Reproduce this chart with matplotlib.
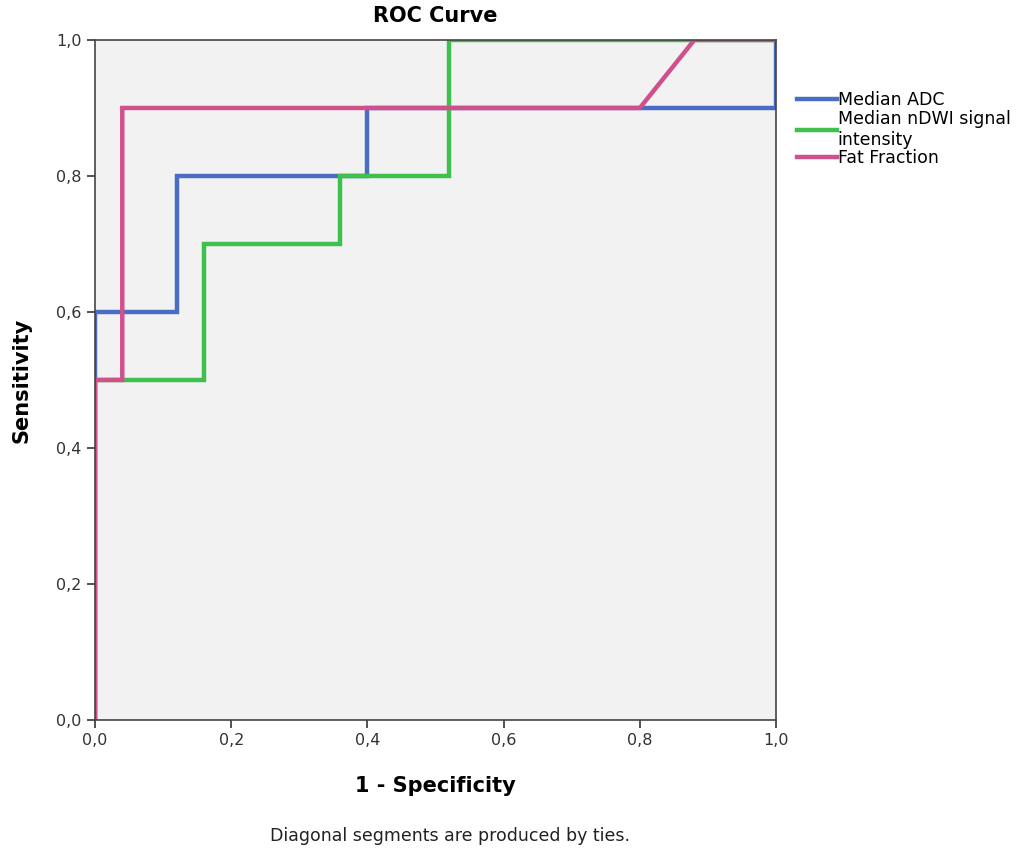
import matplotlib
matplotlib.use('Agg')
import matplotlib.pyplot as plt
from matplotlib.ticker import FuncFormatter

# ROC curve points (1 - specificity, sensitivity)
adc_x = [0.0, 0.0, 0.12, 0.12, 0.40, 0.40, 1.0, 1.0]
adc_y = [0.0, 0.6, 0.6, 0.8, 0.8, 0.9, 0.9, 1.0]

ndwi_x = [0.0, 0.0, 0.16, 0.16, 0.36, 0.36, 0.52, 0.52, 1.0]
ndwi_y = [0.0, 0.5, 0.5, 0.7, 0.7, 0.8, 0.8, 1.0, 1.0]

ff_x = [0.0, 0.0, 0.04, 0.04, 0.80, 0.88, 1.0]
ff_y = [0.0, 0.5, 0.5, 0.9, 0.9, 1.0, 1.0]

labels = ['Median ADC', 'Median nDWI signal\nintensity', 'Fat Fraction']
colors = ['#4a6cc2', '#3ec04c', '#d0508c']
ticks = [0.0, 0.2, 0.4, 0.6, 0.8, 1.0]

fig = plt.figure(figsize=(10.23, 8.56), dpi=100)
ax = fig.add_axes([0.0929, 0.1589, 0.6657, 0.7944])
ax.set_facecolor('#f2f2f2')

ax.plot(adc_x, adc_y, color=colors[0], lw=3.2, label=labels[0], solid_joinstyle='miter')
ax.plot(ndwi_x, ndwi_y, color=colors[1], lw=3.2, label=labels[1], solid_joinstyle='miter')
ax.plot(ff_x, ff_y, color=colors[2], lw=3.2, label=labels[2], solid_joinstyle='miter')

ax.set_xlim(0, 1)
ax.set_ylim(0, 1)
ax.set_xticks(ticks)
ax.set_yticks(ticks)
fmt = FuncFormatter(lambda v, p: ('%.1f' % v).replace('.', ','))
ax.xaxis.set_major_formatter(fmt)
ax.yaxis.set_major_formatter(fmt)
ax.tick_params(direction='out', length=6, width=1.2, labelsize=11.5, colors='#333333')
for sp in ax.spines.values():
    sp.set_color('#444444')
    sp.set_linewidth(1.2)

ax.set_title('ROC Curve', fontsize=15, fontweight='bold', pad=13)
ax.set_xlabel('1 - Specificity', fontsize=15, fontweight='bold', labelpad=20)
ax.set_ylabel('Sensitivity', fontsize=15, fontweight='bold', labelpad=18)

leg = ax.legend(loc='upper left', bbox_to_anchor=(1.0, 0.955), frameon=False,
                fontsize=12.5, handlelength=2.3, handletextpad=0.05,
                labelspacing=0.02, borderaxespad=0.8)

fig.text(0.44, 0.013, 'Diagonal segments are produced by ties.', ha='center',
         va='bottom', fontsize=12.5, color='#222222')

fig.savefig('out.png', dpi=100)
